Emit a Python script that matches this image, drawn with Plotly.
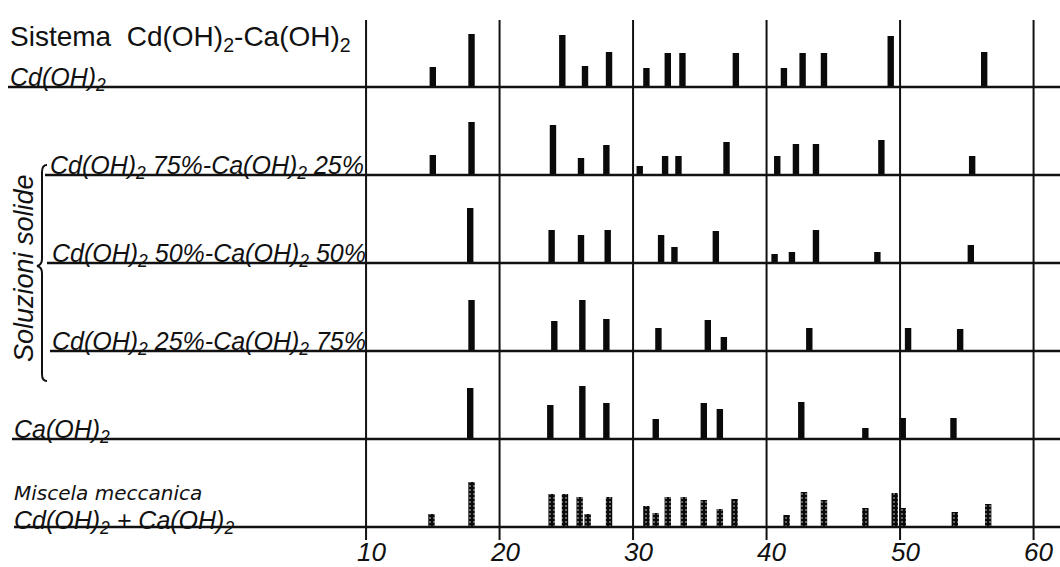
import plotly.graph_objects as go

W, H = 1060, 567

# ---- data: peak positions (x scale) and relative stick heights ----
cd_pos = [15.0, 17.9, 24.7, 26.4, 28.2, 31.0, 32.6, 33.7, 37.7, 41.3, 42.7, 44.3, 49.3, 56.3]
cd_int = [20, 53, 52, 21, 35, 19, 34, 34, 34, 19, 34, 34, 51, 35]

s75_pos = [15.0, 17.9, 24.0, 26.1, 28.0, 30.5, 32.4, 33.4, 37.0, 40.8, 42.2, 43.7, 48.6, 55.4]
s75_int = [20, 53, 50, 17, 30, 9, 19, 19, 33, 19, 31, 31, 35, 19]

s50_pos = [17.8, 23.9, 26.1, 28.1, 32.1, 33.1, 36.2, 40.6, 41.9, 43.7, 48.3, 55.3]
s50_int = [55, 33, 28, 33, 28, 16, 32, 9, 11, 33, 11, 18]

s25_pos = [17.9, 24.1, 26.2, 28.0, 31.9, 35.6, 36.8, 43.2, 50.6, 54.5]
s25_int = [51, 30, 51, 32, 23, 31, 14, 23, 23, 22]

ca_pos = [17.8, 23.8, 26.2, 28.0, 31.7, 35.3, 36.5, 42.6, 47.4, 50.2, 54.0]
ca_int = [51, 34, 53, 36, 20, 36, 30, 37, 11, 21, 21]

mix_pos = [14.9, 17.9, 23.9, 24.9, 26.0, 26.6, 28.2, 31.0, 31.7, 32.6, 33.8, 35.3,
           36.5, 37.6, 41.5, 42.8, 44.3, 47.4, 49.6, 50.2, 54.1, 56.6]
mix_int = [13, 45, 33, 33, 30, 13, 30, 21, 14, 30, 30, 27, 18, 28, 12, 35, 27, 19, 34, 19, 15, 23]

tick_vals = [10, 20, 30, 40, 50, 60]
tick_text = ["10", "20", "30", "40", "50", "60"]

row_labels = [
    "<i>Cd(OH)<sub>2</sub></i>",
    "<i>Cd(OH)<sub>2</sub> 75%-Ca(OH)<sub>2</sub> 25%</i>",
    "<i>Cd(OH)<sub>2</sub> 50%-Ca(OH)<sub>2</sub> 50%</i>",
    "<i>Cd(OH)<sub>2</sub> 25%-Ca(OH)<sub>2</sub> 75%</i>",
    "<i>Ca(OH)<sub>2</sub></i>",
    "<i>Cd(OH)<sub>2</sub> + Ca(OH)<sub>2</sub></i>",
]
title_text = "Sistema  Cd(OH)<sub>2</sub>-Ca(OH)<sub>2</sub>"
mix_note = "<i>Miscela meccanica</i>"
group_text = "<i>Soluzioni solide</i>"

series = [(cd_pos, cd_int), (s75_pos, s75_int), (s50_pos, s50_int),
          (s25_pos, s25_int), (ca_pos, ca_int), (mix_pos, mix_int)]

# ---- layout geometry ----
X0, X1 = -17.42, 61.98           # x range across the full width
ROW_GAP = 88
baselines = [40 + ROW_GAP * (5 - k) for k in range(6)]   # y (from bottom) of each row's baseline
line_start_px = [8, 45, 47, 50, 12, 14]
label_left_px = [8, 48, 50, 50, 12, 12]
label_mid_px = [79, 167, 255, 343, 431, 522]

FONT = "Liberation Sans"
INK = "#111111"


def px_x(px):
    return px / W


def px_y(py):
    return 1 - py / H


fig = go.Figure()

for k, (pos, inten) in enumerate(series):
    marker = dict(color="#0a0a0a", line=dict(width=0))
    if k == 5:
        marker["pattern"] = dict(shape=".", fgcolor="#ffffff", bgcolor="#0a0a0a",
                                 size=4, solidity=0.2, fillmode="overlay")
    fig.add_trace(go.Bar(x=pos, y=inten, base=baselines[k], width=0.48,
                         marker=marker, hoverinfo="skip"))

shapes = []
# vertical reference lines
for v in tick_vals:
    shapes.append(dict(type="line", xref="x", yref="y", x0=v, x1=v, y0=H - 540, y1=H - 20,
                       line=dict(color=INK, width=2)))
# row baselines
for k in range(6):
    shapes.append(dict(type="line", xref="paper", yref="y", x0=px_x(line_start_px[k]), x1=1,
                       y0=baselines[k], y1=baselines[k], line=dict(color=INK, width=2.6)))


def P(px, py):
    return f"{px_x(px):.5f},{px_y(py):.5f}"


# brace grouping the solid solutions
brace = ("M " + P(47, 165) + " Q " + P(42, 165) + " " + P(42, 172) +
         " L " + P(42, 259) + " Q " + P(42, 265) + " " + P(37, 266) +
         " Q " + P(42, 267) + " " + P(42, 273) + " L " + P(42, 374) +
         " Q " + P(42, 381) + " " + P(47, 381))
shapes.append(dict(type="path", xref="paper", yref="paper", path=brace,
                   line=dict(color=INK, width=2)))

ann = []
ann.append(dict(text=title_text, x=px_x(8), y=px_y(38), xref="paper", yref="paper",
                xanchor="left", yanchor="middle", showarrow=False,
                font=dict(family=FONT, size=28, color=INK)))
for k in range(6):
    ann.append(dict(text=row_labels[k], x=px_x(label_left_px[k]), y=px_y(label_mid_px[k]),
                    xref="paper", yref="paper", xanchor="left", yanchor="middle",
                    showarrow=False, font=dict(family=FONT, size=25, color=INK)))
ann.append(dict(text=mix_note, x=px_x(12), y=px_y(493), xref="paper", yref="paper",
                xanchor="left", yanchor="middle", showarrow=False,
                font=dict(family="DejaVu Sans", size=20, color=INK)))
ann.append(dict(text=group_text, x=px_x(24), y=px_y(268), xref="paper", yref="paper",
                xanchor="center", yanchor="middle", textangle=-90, showarrow=False,
                font=dict(family=FONT, size=27, color=INK)))
for v, t in zip(tick_vals, tick_text):
    ann.append(dict(text="<i>" + t + "</i>", x=v, y=H - 552, xref="x", yref="y",
                    xanchor="center", yanchor="middle", xshift=5, showarrow=False,
                    font=dict(family=FONT, size=26, color=INK)))

fig.update_layout(
    width=W, height=H,
    margin=dict(l=0, r=0, t=0, b=0),
    paper_bgcolor="white", plot_bgcolor="white",
    barmode="overlay", showlegend=False,
    xaxis=dict(range=[X0, X1], visible=False, fixedrange=True),
    yaxis=dict(range=[0, H], visible=False, fixedrange=True),
    shapes=shapes, annotations=ann,
)

fig.write_html("out.html", config={"displayModeBar": False},
               post_script="document.body.style.margin='0';document.body.style.overflow='hidden';")
